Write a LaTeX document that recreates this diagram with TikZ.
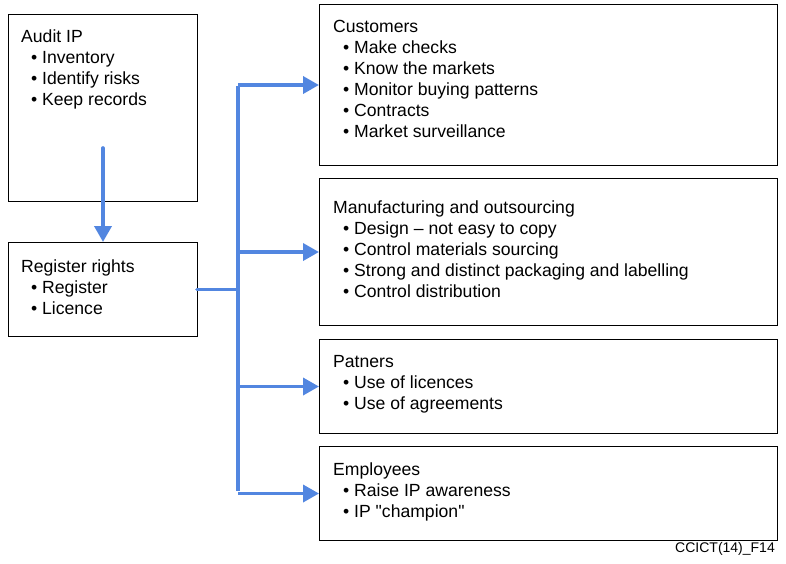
\documentclass[tikz,border=0pt]{standalone}
\usepackage{fontspec}
\setmainfont{Liberation Sans}[Ligatures=TeXOff]
\usetikzlibrary{arrows.meta}
\definecolor{arrowblue}{RGB}{82,134,224}
\tikzset{
  box/.style={draw=black, line width=1pt, anchor=north west, inner sep=0pt},
  head/.style={anchor=base west, inner sep=0pt, font=\fontsize{17.6pt}{21pt}\selectfont},
  itemtxt/.style={anchor=base west, inner sep=0pt, font=\fontsize{17.6pt}{21pt}\selectfont},
  conn/.style={draw=arrowblue, line width=3.6pt},
  arr/.style={conn, -{Triangle[length=16pt,width=17pt]}},
  smalltxt/.style={anchor=base east, inner sep=0pt, font=\fontsize{14pt}{16pt}\selectfont}
}
\newcommand\boxlines[5]{%
  \node[head] (#1-h) at (#2,#3) {#4};
  \foreach \t [count=\i] in {#5} {
    \node[itemtxt] (#1-\i) at (#2+10,#3+21*\i) {\makebox[11pt][l]{\textbullet}\t};
  }
}
\begin{document}
\begin{tikzpicture}[x=1pt,y=-1pt]
\useasboundingbox (0,0) rectangle (786,563);
% boxes
\node[box, minimum width=189pt, minimum height=187pt] (audit) at (8,14) {};
\node[box, minimum width=189pt, minimum height=94pt] (reg) at (8,242) {};
\node[box, minimum width=458pt, minimum height=161pt] (cust) at (319,4) {};
\node[box, minimum width=458pt, minimum height=147pt] (manu) at (319,178) {};
\node[box, minimum width=458pt, minimum height=94pt] (part) at (319,339) {};
\node[box, minimum width=458pt, minimum height=94pt] (emp) at (319,446) {};
% texts
\boxlines{at}{21}{42}{Audit IP}{Inventory, Identify risks, Keep records}
\boxlines{rg}{21}{272}{Register rights}{Register, Licence}
\boxlines{cu}{333}{32}{Customers}{Make checks, Know the markets, Monitor buying patterns, Contracts, Market surveillance}
\boxlines{mf}{333}{213}{Manufacturing and outsourcing}{Design – not easy to copy, Control materials sourcing, Strong and distinct packaging and labelling, Control distribution}
\boxlines{pt}{333}{367}{Patners}{Use of licences, Use of agreements}
\boxlines{em}{333}{475}{Employees}{Raise IP awareness, IP "champion"}
\node[smalltxt] (lbl) at (775,552) {CCICT(14)\_F14};
% connectors
\coordinate (a1) at (103,148);
\coordinate (c1) at (238,84.5);
\coordinate (c4) at (238,493);
\draw[arr, line cap=round] (a1) -- (a1 |- reg.north);
\draw[conn, line cap=round] ([xshift=-1pt]reg.east) -- (c1 |- reg.east);
\draw[conn] ([yshift=-1.8pt]c1) -- ([yshift=1.8pt]c4);
\draw[arr] (c1 |- cust.west) -- (cust.west);
\draw[arr] (c1 |- manu.west) -- (manu.west);
\draw[arr] (c1 |- part.west) -- (part.west);
\draw[arr] (c1 |- emp.west) -- (emp.west);
\end{tikzpicture}
\end{document}
